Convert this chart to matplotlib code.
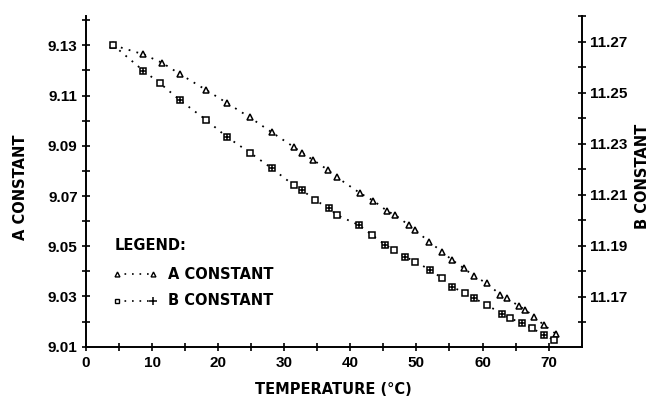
import matplotlib
matplotlib.use("Agg")
import matplotlib.pyplot as plt
import numpy as np

plt.rcParams['font.family'] = ['DejaVu Sans']
plt.rcParams['font.weight'] = 'bold'

# A constant (left axis)
temp_a = [4.1, 8.6, 11.5, 14.2, 18.2, 21.3, 24.8, 28.1, 31.4, 32.7, 34.4, 36.6, 38.0,
          41.5, 43.5, 45.6, 46.8, 48.8, 49.8, 51.9, 53.9, 55.4, 57.2, 58.7, 60.7,
          62.7, 63.7, 65.5, 66.5, 67.8, 69.3, 71.1]
a_const = [9.1301, 9.1265, 9.1231, 9.1186, 9.1122, 9.1071, 9.1013, 9.0954, 9.0896,
           9.0872, 9.0843, 9.0804, 9.0774, 9.0711, 9.0681, 9.0640, 9.0624, 9.0585,
           9.0565, 9.0518, 9.0478, 9.0445, 9.0412, 9.0381, 9.0352, 9.0306, 9.0293,
           9.0262, 9.0246, 9.0219, 9.0186, 9.0151]

# B constant (right axis)
temp_b = [4.1, 8.7, 11.2, 14.2, 18.2, 21.3, 24.8, 28.1, 31.4, 32.7, 34.7, 36.7, 38.0,
          41.3, 43.3, 45.3, 46.6, 48.3, 49.8, 52.1, 53.9, 55.4, 57.4, 58.7, 60.7,
          63.0, 64.2, 66.0, 67.5, 69.3, 70.8]
b_const = [11.2687, 11.2586, 11.2537, 11.2471, 11.2393, 11.2327, 11.2265, 11.2204,
           11.2138, 11.2118, 11.2079, 11.2047, 11.2020, 11.1981, 11.1942, 11.1903,
           11.1883, 11.1857, 11.1837, 11.1805, 11.1772, 11.1739, 11.1713, 11.1694,
           11.1667, 11.1632, 11.1615, 11.1596, 11.1576, 11.1550, 11.1530]

x_ticks = [0, 10, 20, 30, 40, 50, 60, 70]
a_ticks = [9.01, 9.03, 9.05, 9.07, 9.09, 9.11, 9.13]
b_ticks = [11.17, 11.19, 11.21, 11.23, 11.25, 11.27]

fig = plt.figure(figsize=(6.56, 3.96), dpi=100)
ax = fig.add_axes([0.1311, 0.1245, 0.7556, 0.8351])
ax2 = ax.twinx()

dots = (0, (1, 3.5))
ax.plot(temp_a, a_const, color='black', ls=dots, lw=1.3, marker='^', ms=3.8,
        mfc='white', mec='black', mew=1.1)
ax2.plot(temp_b, b_const, color='black', ls=dots, lw=1.3, marker='s', ms=3.8,
         mfc='white', mec='black', mew=1.1)
ax2.plot(temp_b[1::2], b_const[1::2], ls='none', marker='+', ms=5, color='black', mew=1.1)

ax.set_xlim(0, 75)
ax.set_ylim(9.01, 9.1417)
ax2.set_ylim(11.1504, 11.2801)

ax.set_xticks(x_ticks)
ax.set_xticks(np.arange(5, 75, 10), minor=True)
ax.set_yticks(a_ticks)
ax.set_yticks(np.arange(9.02, 9.145, 0.02), minor=True)
ax2.set_yticks(b_ticks)
ax2.set_yticks(np.arange(11.16, 11.285, 0.02), minor=True)

tick_font = dict(fontsize=11, fontweight='bold', family='Liberation Sans')
fs = 10.5
ax.set_xticklabels([str(t) for t in x_ticks], **tick_font)
ax.set_yticklabels([f"{t:.2f}" for t in a_ticks], **tick_font)
ax2.set_yticklabels([f"{t:.2f}" for t in b_ticks], **tick_font)

for a in (ax, ax2):
    a.spines['top'].set_visible(False)
    for s in a.spines.values():
        s.set_linewidth(1.4)
    a.tick_params(which='both', direction='inout', length=6, width=1.2, pad=3)
ax.spines['right'].set_visible(False)
ax2.spines['left'].set_visible(False)
ax2.spines['bottom'].set_visible(False)
ax.tick_params(axis='x', pad=4)

ax.set_xlabel('TEMPERATURE (°C)', fontsize=fs, fontweight='bold', labelpad=8)
ax.set_ylabel('A CONSTANT', fontsize=fs, fontweight='bold', va='center')
ax2.set_ylabel('B CONSTANT', fontsize=fs, fontweight='bold', rotation=90, va='center')
ax.yaxis.set_label_coords(-0.133, 0.483)
ax2.yaxis.set_label_coords(1.1237, 0.516)

# legend drawn manually
tr = ax.transAxes
ax.text(0.0585, 0.3075, 'LEGEND:', transform=tr, fontsize=fs, fontweight='bold',
        va='center', ha='left')
ax.plot([0.0625, 0.135], [0.2198, 0.2198], transform=tr, color='black', ls=dots, lw=1.2,
        marker='^', ms=3.5, mfc='white', mec='black', markevery=[0, 1])
ax.text(0.1654, 0.2198, 'A CONSTANT', transform=tr, fontsize=fs, fontweight='bold',
        va='center', ha='left')
ax.plot([0.0625, 0.135], [0.139, 0.139], transform=tr, color='black', ls=dots, lw=1.2)
ax.plot([0.0625], [0.139], transform=tr, marker='s', ms=3.5, mfc='white', mec='black', ls='none')
ax.plot([0.135], [0.139], transform=tr, marker='+', ms=6, color='black', mew=1.1, ls='none')
ax.text(0.1654, 0.139, 'B CONSTANT', transform=tr, fontsize=fs, fontweight='bold',
        va='center', ha='left')

fig.savefig('out.png', dpi=100)
